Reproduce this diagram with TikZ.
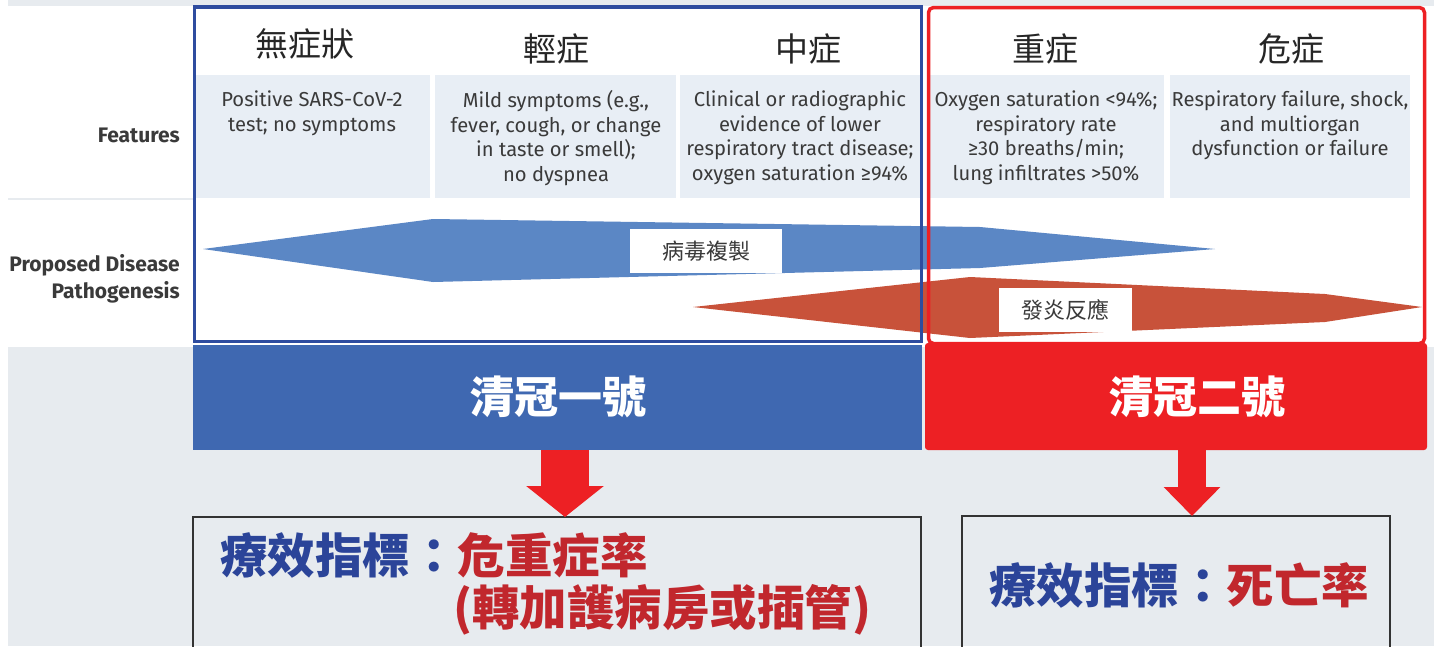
\documentclass[tikz,border=0pt]{standalone}
\usepackage{fontspec}
\setmainfont{Fira Sans}
\newfontfamily\cjk{Noto Sans CJK TC}
\usetikzlibrary{arrows.meta}
\definecolor{pagegray}{HTML}{E7EBEF}
\definecolor{cellblue}{HTML}{E8EEF5}
\definecolor{frameblue}{HTML}{2E4C9F}
\definecolor{framered}{HTML}{ED2024}
\definecolor{btnblue}{HTML}{3F68B1}
\definecolor{virusblue}{HTML}{5B87C5}
\definecolor{inflamred}{HTML}{C8523A}
\definecolor{txtblue}{HTML}{2B4499}
\definecolor{txtred}{HTML}{C1272D}
\definecolor{txtgray}{HTML}{3A3A3A}

\begin{document}
\begin{tikzpicture}[x=1pt, y=-1pt, every node/.style={align=center, inner sep=0pt},
feat/.style={anchor=north, text=txtgray, font=\fontsize{20.2}{24.6}\selectfont},
side/.style={anchor=east, text=txtgray, align=right, font=\bfseries\fontsize{21}{27}\selectfont},
head/.style={text=black!85, font=\cjk\fontsize{33}{33}\selectfont},
tag/.style={fill=white, text=txtgray, minimum height=44, font=\cjk\fontsize{22}{22}\selectfont},
btn/.style={minimum height=105, outer sep=0pt},
btntext/.style={text=white, font=\cjk\bfseries\fontsize{44}{44}\selectfont},
result/.style={draw=black!80, line width=1.5pt, minimum height=154, outer sep=0pt},
restext/.style={text=txtblue, font=\cjk\bfseries\fontsize{47.5}{56}\selectfont},
redarrow/.style={framered, line width=#1}]
\useasboundingbox (0,0) rectangle (1434,646);
%================================================================
%	Background
\fill[pagegray] (0,0) rectangle (1434,646);
\fill[white] (0,0) rectangle (8,646);
\fill[white] (8,6) rectangle (1434,347);
\draw[pagegray, line width=2pt] (8,199) -- (193,199);

%================================================================
%	Feature cells
\fill[cellblue] (195,75) rectangle (430,198);
\fill[cellblue] (435,75) rectangle (676,198);
\fill[cellblue] (680,75) rectangle (920,198);
\fill[cellblue] (929,75) rectangle (1164,198);
\fill[cellblue] (1170,75) rectangle (1410,198);

\node[head] (h1) at (305,44) {無症狀};
\node[head] (h2) at (556,49) {輕症};
\node[head] (h3) at (808,49) {中症};
\node[head] (h4) at (1045,49) {重症};
\node[head] (h5) at (1291,49) {危症};

\node[feat] (f1) at (312,90.5) {Positive SARS-CoV-2\\test; no symptoms};
\node[feat] (f2) at (556,90.5) {Mild symptoms (e.g.,\\fever, cough, or change\\in taste or smell);\\no dyspnea};
\node[feat] (f3) at (800,90.5) {Clinical or radiographic\\evidence of lower\\respiratory tract disease;\\oxygen saturation ≥94\%};
\node[feat] (f4) at (1046,90.5) {Oxygen saturation <94\%;\\respiratory rate\\≥30 breaths/min;\\lung infiltrates >50\%};
\node[feat] (f5) at (1290,90.5) {Respiratory failure, shock,\\and multiorgan\\dysfunction or failure};

%----------------------------------------------------------------
\node[side] (features) at (180,135) {Features};
\node[side] (patho) at (180,279) {Proposed Disease\\Pathogenesis};

%================================================================
%	Pathogenesis
\fill[virusblue] (203,249) -- (433,219) -- (980,227) -- (1215,249) -- (980,268) -- (433,282) -- cycle;
\fill[inflamred] (693,307) -- (970,277) -- (1325,294) -- (1422,307) -- (1325,322) -- (970,338) -- cycle;

\node[tag, minimum width=152] (virus) at (706,251) {病毒複製};
\node[tag, minimum width=133] (inflam) at (1065.5,310) {發炎反應};

%================================================================
%	Frames and buttons
\draw[frameblue, line width=3.5pt] (194.5,7) rectangle (921.5,341.5);
\draw[framered, line width=3.5pt, rounded corners=5] (928.5,7.5) rectangle (1424.5,343.5);

\node[btn, fill=btnblue, minimum width=729] (b1) at (557.5,397.5) {};
\node[btn, fill=framered, minimum width=502, minimum height=107, rounded corners=3] (b2) at (1176,396.5) {};
\node[btntext] (b1t) at (558,397) {清冠一號};
\node[btntext] (b2t) at (1197,397) {清冠二號};

%================================================================
%	Results
\node[result, minimum width=728] (m1) at (557,594) {};
\node[result, minimum width=428] (m2) at (1176,593) {};

\node[restext, anchor=west] (m1a) at (220,555) {療效指標：\textcolor{txtred}{危重症率}};
\node[restext, anchor=west, text=txtred] (m1b) at (453,610) {(轉加護病房或插管)};
\node[restext] (m2a) at (1179,585) {療效指標：\textcolor{txtred}{死亡率}};

%----------------------------------------------------------------
\draw[redarrow=48pt, -{Triangle[width=76pt, length=31pt]}] ([xshift=7.5pt]b1.south) -- ([xshift=8pt]m1.north);
\draw[redarrow=28pt, -{Triangle[width=55pt, length=29pt]}] ([xshift=16pt]b2.south) -- ([xshift=16pt]m2.north);
%================================================================
\end{tikzpicture}
\end{document}
